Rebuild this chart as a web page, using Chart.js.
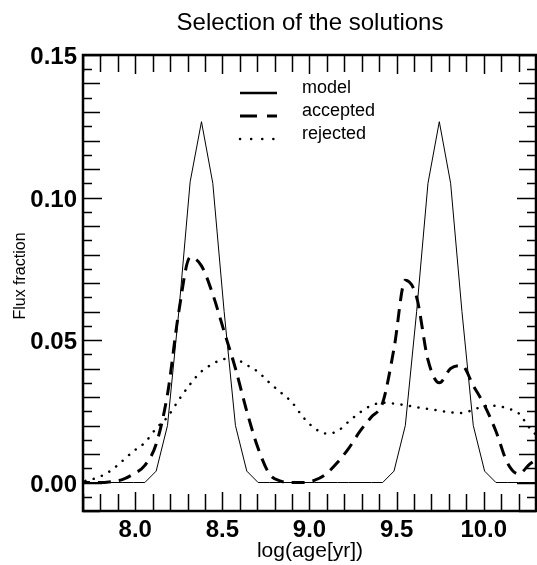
<!DOCTYPE html>
<html>
<head>
<meta charset="utf-8">
<title>Selection of the solutions</title>
<script src="https://cdn.jsdelivr.net/npm/chart.js@4/dist/chart.umd.min.js"></script>
<style>
  html, body { margin: 0; padding: 0; background: #fff; }
  canvas { display: block; }
</style>
</head>
<body>
<canvas id="solChart" width="537" height="565"></canvas>
<script>
// log(age[yr]) grid shared by the three curves
var logAge = [7.665, 7.73, 7.795, 7.86, 7.925, 7.99, 8.055, 8.12, 8.185, 8.25,
              8.315, 8.38, 8.445, 8.51, 8.575, 8.64, 8.705, 8.77, 8.835, 8.9,
              8.965, 9.03, 9.095, 9.16, 9.225, 9.29, 9.355, 9.42, 9.485, 9.55,
              9.615, 9.68, 9.745, 9.81, 9.875, 9.94, 10.005, 10.07, 10.135, 10.2,
              10.265, 10.33];

var modelFlux = [0, 0, 0, 0, 0, 0, 0, 0.004, 0.02, 0.06,
                 0.1055, 0.1266, 0.105, 0.06, 0.02, 0.004, 0, 0, 0, 0,
                 0, 0, 0, 0, 0, 0, 0, 0, 0.004, 0.02,
                 0.06, 0.105, 0.1266, 0.105, 0.06, 0.02, 0.004, 0, 0, 0,
                 0, 0];

var acceptedFlux = [0, 0, 0, 0.0003, 0.001, 0.003, 0.006, 0.0135, 0.031, 0.06,
                    0.079, 0.076, 0.066, 0.053, 0.04, 0.025, 0.012, 0.003, 0.0005, 0,
                    0, 0.0008, 0.003, 0.007, 0.012, 0.018, 0.023, 0.028, 0.047, 0.071,
                    0.065, 0.043, 0.035, 0.04, 0.041, 0.034, 0.027, 0.018, 0.007, 0.003,
                    0.0065, 0.009];

var rejectedFlux = [0, 0.0008, 0.002, 0.0042, 0.0075, 0.011, 0.014, 0.019, 0.023, 0.029,
                    0.0345, 0.039, 0.0416, 0.0433, 0.0432, 0.0412, 0.0388, 0.035, 0.0316, 0.0281,
                    0.0228, 0.019, 0.0172, 0.018, 0.0214, 0.0246, 0.027, 0.028, 0.0277, 0.0271,
                    0.0264, 0.0258, 0.0252, 0.0246, 0.0244, 0.0255, 0.0268, 0.0269, 0.026, 0.0243,
                    0.019, 0.015];

var xTickLabels = ['8.0', '8.5', '9.0', '9.5', '10.0'];
var yTickLabels = ['0.00', '0.05', '0.10', '0.15'];

function toPoints(ys) {
    return ys.map(function(y, i) { return { x: logAge[i], y: y }; });
}

var FONT = '"Liberation Sans", Arial, Helvetica, sans-serif';

// frame, inward ticks, labels, titles and legend (IDL look)
var idlFrame = {
    id: 'idlFrame',
    afterDraw: function(chart) {
        var c = chart.ctx, a = chart.chartArea;
        var xs = chart.scales.x, ys = chart.scales.y;
        var i, v, p, len;
        c.save();
        c.strokeStyle = '#000';
        c.fillStyle = '#000';

        // ticks
        c.lineWidth = 1.5;
        c.beginPath();
        for (i = 77; i <= 103; i++) {
            v = i / 10;
            p = Math.round(xs.getPixelForValue(v)) + 0.5;
            len = (i % 5 === 0) ? 19 : 17;
            c.moveTo(p, a.bottom); c.lineTo(p, a.bottom - len);
            c.moveTo(p, a.top); c.lineTo(p, a.top + len);
        }
        for (i = -2; i <= 30; i++) {
            v = i * 0.005;
            p = Math.round(ys.getPixelForValue(v)) + 0.5;
            len = (i % 10 === 0) ? 19 : (i % 2 === 0 ? 17 : 9);
            c.moveTo(a.left, p); c.lineTo(a.left + len, p);
            c.moveTo(a.right, p); c.lineTo(a.right - len, p);
        }
        c.stroke();

        // frame
        c.lineWidth = 2.5;
        c.strokeRect(a.left, a.top, a.right - a.left, a.bottom - a.top);

        // tick labels
        c.font = 'bold 24px ' + FONT;
        c.textAlign = 'right';
        c.textBaseline = 'alphabetic';
        yTickLabels.forEach(function(t) {
            c.fillText(t, a.left - 6, ys.getPixelForValue(parseFloat(t)) + 9);
        });
        c.textAlign = 'center';
        xTickLabels.forEach(function(t) {
            c.fillText(t, xs.getPixelForValue(parseFloat(t)), 537);
        });

        // titles
        c.font = '24px ' + FONT;
        c.fillText('Selection of the solutions', 310, 30);
        c.font = '21px ' + FONT;
        c.fillText('log(age[yr])', 310, 557);
        c.save();
        c.translate(25, 276);
        c.rotate(-Math.PI / 2);
        c.font = '16px ' + FONT;
        c.fillText('Flux fraction', 0, 0);
        c.restore();

        // legend
        var rows = [
            { y: 93, dash: [], w: 2.5, cap: 'butt' },
            { y: 116, dash: [17, 10], w: 3, cap: 'butt' },
            { y: 139, dash: [0.1, 11], w: 2.5, cap: 'round' }
        ];
        c.font = '18px ' + FONT;
        c.textAlign = 'left';
        chart.data.datasets.forEach(function(ds, k) {
            var r = rows[k];
            c.beginPath();
            c.lineWidth = r.w;
            c.lineCap = r.cap;
            c.setLineDash(r.dash);
            c.moveTo(240, r.y); c.lineTo(277, r.y);
            c.stroke();
            c.setLineDash([]);
            c.fillText(ds.label, 302, r.y);
        });
        c.restore();
    }
};

document.addEventListener('DOMContentLoaded', function() {
    var ctx = document.getElementById('solChart').getContext('2d');
    new Chart(ctx, {
        type: 'line',
        data: {
            datasets: [{
                label: 'model',
                data: toPoints(modelFlux),
                borderColor: '#000',
                borderWidth: 1,
                tension: 0
            }, {
                label: 'accepted',
                data: toPoints(acceptedFlux),
                borderColor: '#000',
                borderWidth: 3,
                borderDash: [13, 8],
                cubicInterpolationMode: 'monotone'
            }, {
                label: 'rejected',
                data: toPoints(rejectedFlux),
                borderColor: '#000',
                borderWidth: 2.5,
                borderDash: [0.1, 8.5],
                borderCapStyle: 'round',
                cubicInterpolationMode: 'monotone'
            }]
        },
        options: {
            responsive: false,
            animation: false,
            layout: { padding: { left: 83, right: 1, top: 55, bottom: 54 } },
            elements: { point: { radius: 0 } },
            scales: {
                x: { type: 'linear', min: 7.7, max: 10.3, display: false },
                y: { min: -0.01, max: 0.15, display: false }
            },
            plugins: {
                legend: { display: false },
                tooltip: { enabled: false }
            }
        },
        plugins: [idlFrame]
    });
});
</script>
</body>
</html>
